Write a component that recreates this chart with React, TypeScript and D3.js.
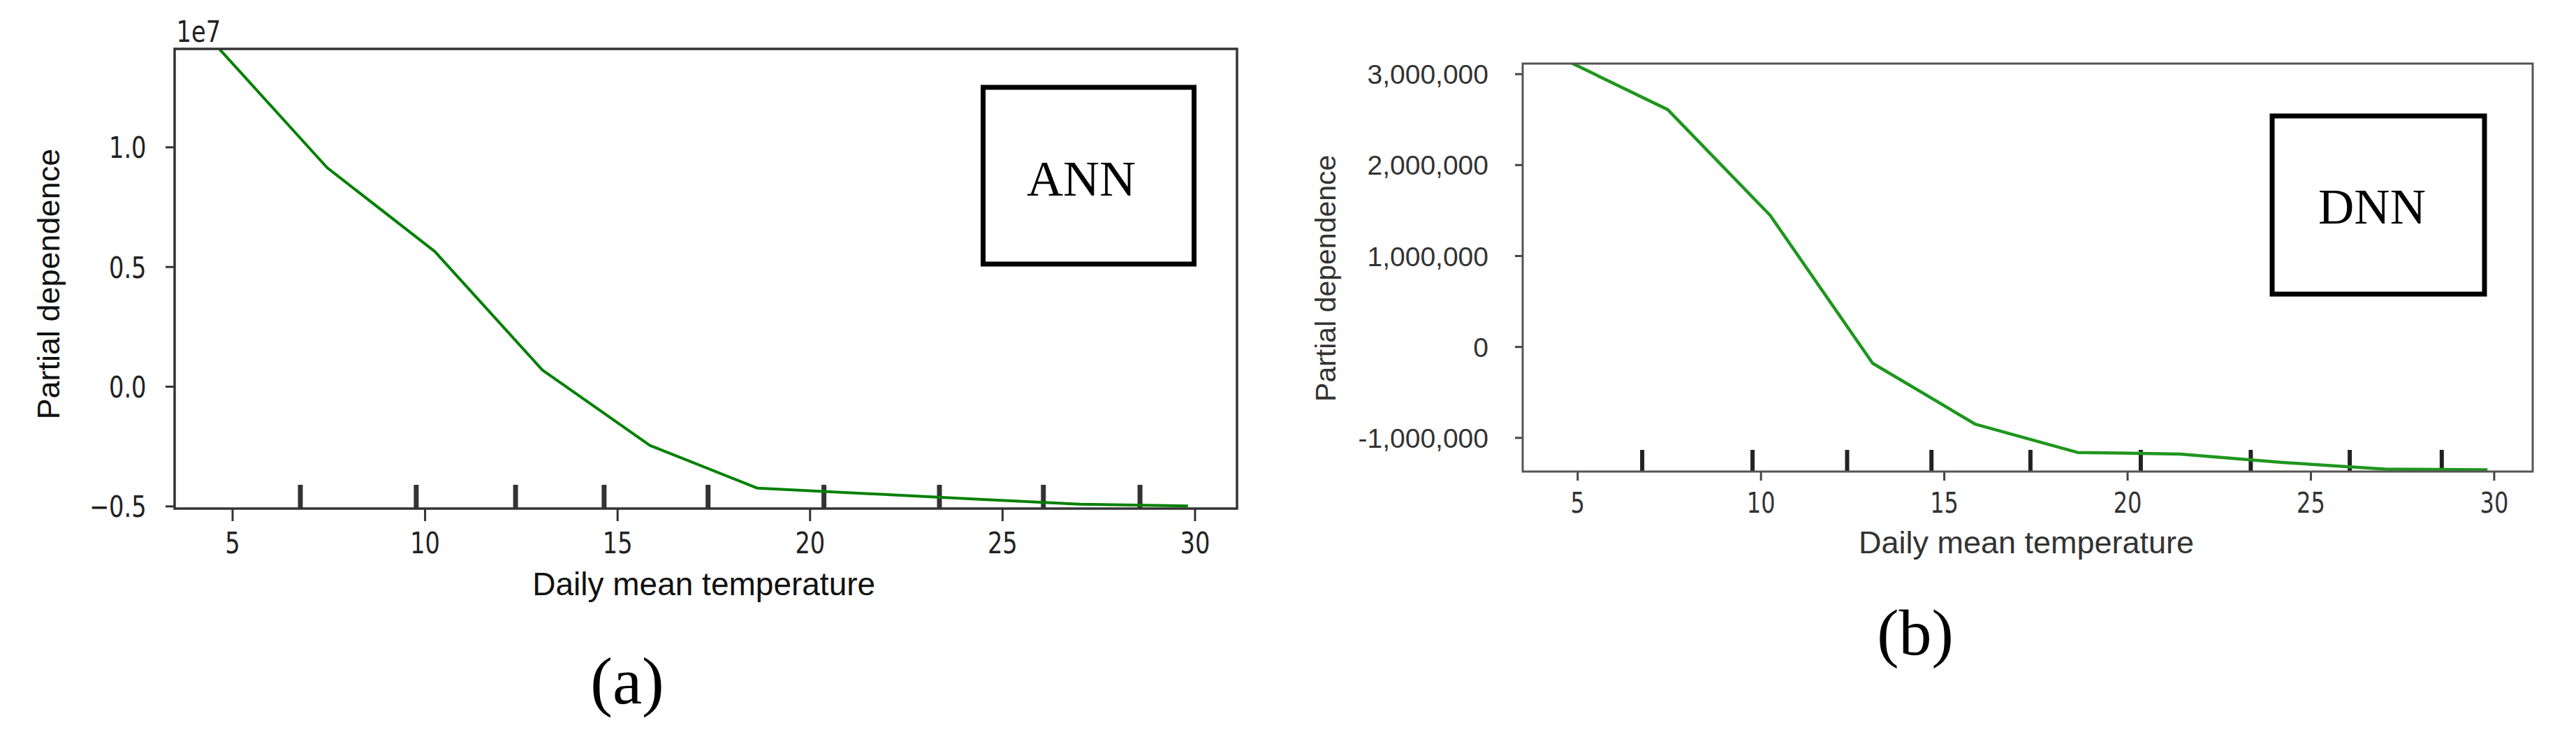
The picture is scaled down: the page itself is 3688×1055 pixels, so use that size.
import React from "react";
import * as d3 from "d3";

// ---------- data ----------
const tempGrid = [4.66, 7.455, 10.25, 13.045, 15.84, 18.635, 21.43, 24.225, 27.02, 29.815];
// ANN partial dependence, in units of 1e7
const annPD = [1.41, 0.915, 0.565, 0.07, -0.245, -0.424, -0.446, -0.469, -0.491, -0.498];
// DNN partial dependence
const dnnPD = [3156000, 2610000, 1447000, -179000, -848000, -1160000, -1178000, -1270000, -1343000, -1351000];
// decile rug marks of the feature
const deciles = [6.76, 9.77, 12.35, 14.65, 17.35, 20.36, 23.36, 26.06, 28.57];
const xTicks = [5, 10, 15, 20, 25, 30];
const annYTicks = [-0.5, 0.0, 0.5, 1.0];
const dnnYTicks = [-1000000, 0, 1000000, 2000000, 3000000];
const xLabel = "Daily mean temperature";
const yLabel = "Partial dependence";
const annName = "ANN";
const dnnName = "DNN";
const panelLabels = ["(a)", "(b)"];

const W = 3688;
const H = 1055;

const annFmt = (v: number) => d3.format(".1f")(v).replace("-", "\u2212");
const dnnFmt = (v: number) => d3.format(",")(v).replace("\u2212", "-");

function App() {
  // ---------- panel (a) ----------
  const ax = d3.scaleLinear().domain([3.494, 31.09]).range([250, 1771]);
  const ay = d3.scaleLinear().domain([-0.509, 1.411]).range([728, 70]);
  const aLine = d3
    .line<number>()
    .x((_, i) => ax(tempGrid[i]))
    .y((d) => ay(d));

  // ---------- panel (b) ----------
  const bx = d3.scaleLinear().domain([3.5, 31.05]).range([2180, 3626]);
  const by = d3.scaleLinear().domain([-1370000, 3116000]).range([675, 91]);
  const bLine = d3
    .line<number>()
    .x((_, i) => bx(tempGrid[i]))
    .y((d) => by(d));

  const dv = "DejaVu Sans, sans-serif";
  const lib = "Liberation Sans, Arial, sans-serif";
  const serif = "Liberation Serif, Times New Roman, serif";

  return (
    <svg
      width={W}
      height={H}
      viewBox={`0 0 ${W} ${H}`}
      style={{ position: "absolute", left: 0, top: 0, background: "#fff" }}
    >
      <defs>
        <clipPath id="clipA">
          <rect x={250} y={70} width={1521} height={658} />
        </clipPath>
        <clipPath id="clipB">
          <rect x={2180} y={91} width={1446} height={584} />
        </clipPath>
      </defs>
      <rect x={0} y={0} width={W} height={H} fill="#fff" />

      {/* ================= Panel (a) ================= */}
      <g>
        {annYTicks.map((t) => (
          <g key={"ay" + t}>
            <line x1={237} x2={250} y1={ay(t)} y2={ay(t)} stroke="#333" strokeWidth={3} />
            <text
              transform={`translate(209.5,${ay(t)}) scale(0.8,1)`}
              dy="0.37em"
              textAnchor="end"
              fontFamily={dv}
              fontSize={42}
              fill="#222"
            >
              {annFmt(t)}
            </text>
          </g>
        ))}
        <text
          transform="translate(252.6,60) scale(0.8,1)"
          fontFamily={dv}
          fontSize={42}
          fill="#222"
        >
          1e7
        </text>
        {xTicks.map((t) => (
          <g key={"ax" + t}>
            <line x1={ax(t)} x2={ax(t)} y1={728} y2={746} stroke="#333" strokeWidth={3} />
            <text
              transform={`translate(${ax(t)},791.7) scale(0.8,1)`}
              textAnchor="middle"
              fontFamily={dv}
              fontSize={42}
              fill="#222"
            >
              {t}
            </text>
          </g>
        ))}
        {deciles.map((d) => (
          <line key={"ar" + d} x1={ax(d)} x2={ax(d)} y1={728} y2={694} stroke="#333" strokeWidth={7} />
        ))}
        <path
          d={aLine(annPD) || ""}
          fill="none"
          stroke="#008000"
          strokeWidth={4}
          strokeLinejoin="round"
          clipPath="url(#clipA)"
        />
        <rect x={250} y={70} width={1521} height={658} fill="none" stroke="#333" strokeWidth={3.5} />
        <text x={1007.7} y={851.7} textAnchor="middle" fontFamily={lib} fontSize={46} fill="#111">
          {xLabel}
        </text>
        <text
          transform="translate(85,406.7) rotate(-90)"
          textAnchor="middle"
          fontFamily={lib}
          fontSize={45}
          fill="#111"
        >
          {yLabel}
        </text>
        <rect x={1407.5} y={125} width={302} height={253} fill="#fff" stroke="#000" strokeWidth={7} />
        <text x={1548} y={279.6} textAnchor="middle" fontFamily={serif} fontSize={72} fill="#000">
          {annName}
        </text>
        <text x={898} y={1006.7} textAnchor="middle" fontFamily={serif} fontSize={95} fill="#000">
          {panelLabels[0]}
        </text>
      </g>

      {/* ================= Panel (b) ================= */}
      <g>
        {dnnYTicks.map((t) => (
          <g key={"by" + t}>
            <line x1={2169} x2={2180} y1={by(t)} y2={by(t)} stroke="#444" strokeWidth={3} />
            <text
              x={2131}
              y={by(t)}
              dy="0.36em"
              textAnchor="end"
              fontFamily={lib}
              fontSize={39}
              fill="#333"
            >
              {dnnFmt(t)}
            </text>
          </g>
        ))}
        {xTicks.map((t) => (
          <g key={"bx" + t}>
            <line x1={bx(t)} x2={bx(t)} y1={675} y2={688} stroke="#444" strokeWidth={3} />
            <text
              transform={`translate(${bx(t)},734) scale(0.8,1)`}
              textAnchor="middle"
              fontFamily={dv}
              fontSize={40}
              fill="#333"
            >
              {t}
            </text>
          </g>
        ))}
        {deciles.map((d) => (
          <line key={"br" + d} x1={bx(d)} x2={bx(d)} y1={675} y2={644} stroke="#222" strokeWidth={6} />
        ))}
        <path
          d={bLine(dnnPD) || ""}
          fill="none"
          stroke="#1e961e"
          strokeWidth={4.5}
          strokeLinejoin="round"
          clipPath="url(#clipB)"
        />
        <rect x={2180} y={91} width={1446} height={584} fill="none" stroke="#555" strokeWidth={3} />
        <text x={2901} y={791.7} textAnchor="middle" fontFamily={lib} fontSize={45} fill="#333">
          {xLabel}
        </text>
        <text
          transform="translate(1911.7,398.3) rotate(-90)"
          textAnchor="middle"
          fontFamily={lib}
          fontSize={41}
          fill="#333"
        >
          {yLabel}
        </text>
        <rect x={3253} y={166} width={304} height={255} fill="#fff" stroke="#000" strokeWidth={7} />
        <text x={3396} y={319.5} textAnchor="middle" fontFamily={serif} fontSize={71} fill="#000">
          {dnnName}
        </text>
        <text x={2742} y={936.7} textAnchor="middle" fontFamily={serif} fontSize={94} fill="#000">
          {panelLabels[1]}
        </text>
      </g>
    </svg>
  );
}

export default App;
